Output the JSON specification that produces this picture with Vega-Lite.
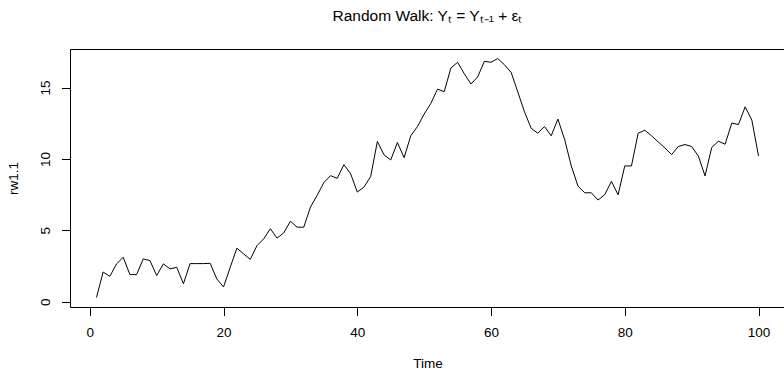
{
  "$schema": "https://vega.github.io/schema/vega-lite/v6.json",
  "autosize": {"type": "none"},
  "padding": {"left": 70, "top": 49, "right": 0, "bottom": 64},
  "width": 715,
  "height": 258,
  "background": "white",
  "title": {
    "text": "Random Walk: Yₜ = Yₜ₋₁ + εₜ",
    "font": "Liberation Sans",
    "fontSize": 15.5,
    "fontWeight": "normal",
    "color": "#000000",
    "anchor": "middle",
    "frame": "group",
    "offset": 25
  },
  "config": {
    "view": {"stroke": "#000000", "strokeWidth": 1},
    "axis": {
      "grid": false,
      "domain": false,
      "tickColor": "#000000",
      "tickWidth": 1,
      "labelColor": "#000000",
      "titleColor": "#000000",
      "labelFont": "Liberation Sans",
      "titleFont": "Liberation Sans",
      "labelFontSize": 13.5,
      "titleFontSize": 13.5,
      "titleFontWeight": "normal"
    }
  },
  "data": {
    "values": [
      {"t": 1, "rw": 0.30}, {"t": 2, "rw": 2.08}, {"t": 3, "rw": 1.78}, {"t": 4, "rw": 2.65},
      {"t": 5, "rw": 3.11}, {"t": 6, "rw": 1.90}, {"t": 7, "rw": 1.90}, {"t": 8, "rw": 3.00},
      {"t": 9, "rw": 2.88}, {"t": 10, "rw": 1.83}, {"t": 11, "rw": 2.65}, {"t": 12, "rw": 2.30},
      {"t": 13, "rw": 2.41}, {"t": 14, "rw": 1.26}, {"t": 15, "rw": 2.67}, {"t": 16, "rw": 2.67},
      {"t": 17, "rw": 2.67}, {"t": 18, "rw": 2.69}, {"t": 19, "rw": 1.59}, {"t": 20, "rw": 1.03},
      {"t": 21, "rw": 2.41}, {"t": 22, "rw": 3.75}, {"t": 23, "rw": 3.35}, {"t": 24, "rw": 2.97},
      {"t": 25, "rw": 3.93}, {"t": 26, "rw": 4.40}, {"t": 27, "rw": 5.11}, {"t": 28, "rw": 4.45},
      {"t": 29, "rw": 4.82}, {"t": 30, "rw": 5.64}, {"t": 31, "rw": 5.22}, {"t": 32, "rw": 5.22},
      {"t": 33, "rw": 6.63}, {"t": 34, "rw": 7.45}, {"t": 35, "rw": 8.34}, {"t": 36, "rw": 8.83},
      {"t": 37, "rw": 8.64}, {"t": 38, "rw": 9.60}, {"t": 39, "rw": 8.97}, {"t": 40, "rw": 7.68},
      {"t": 41, "rw": 8.03}, {"t": 42, "rw": 8.76}, {"t": 43, "rw": 11.22}, {"t": 44, "rw": 10.28},
      {"t": 45, "rw": 9.93}, {"t": 46, "rw": 11.15}, {"t": 47, "rw": 10.09}, {"t": 48, "rw": 11.62},
      {"t": 49, "rw": 12.27}, {"t": 50, "rw": 13.14}, {"t": 51, "rw": 13.89}, {"t": 52, "rw": 14.89},
      {"t": 53, "rw": 14.71}, {"t": 54, "rw": 16.37}, {"t": 55, "rw": 16.77}, {"t": 56, "rw": 15.97},
      {"t": 57, "rw": 15.25}, {"t": 58, "rw": 15.74}, {"t": 59, "rw": 16.84}, {"t": 60, "rw": 16.77},
      {"t": 61, "rw": 17.03}, {"t": 62, "rw": 16.60}, {"t": 63, "rw": 16.07}, {"t": 64, "rw": 14.70},
      {"t": 65, "rw": 13.30}, {"t": 66, "rw": 12.15}, {"t": 67, "rw": 11.80}, {"t": 68, "rw": 12.27},
      {"t": 69, "rw": 11.62}, {"t": 70, "rw": 12.79}, {"t": 71, "rw": 11.38}, {"t": 72, "rw": 9.51},
      {"t": 73, "rw": 8.10}, {"t": 74, "rw": 7.63}, {"t": 75, "rw": 7.63}, {"t": 76, "rw": 7.12},
      {"t": 77, "rw": 7.49}, {"t": 78, "rw": 8.43}, {"t": 79, "rw": 7.49}, {"t": 80, "rw": 9.51},
      {"t": 81, "rw": 9.51}, {"t": 82, "rw": 11.80}, {"t": 83, "rw": 12.01}, {"t": 84, "rw": 11.62},
      {"t": 85, "rw": 11.19}, {"t": 86, "rw": 10.77}, {"t": 87, "rw": 10.30}, {"t": 88, "rw": 10.87},
      {"t": 89, "rw": 11.01}, {"t": 90, "rw": 10.87}, {"t": 91, "rw": 10.21}, {"t": 92, "rw": 8.81},
      {"t": 93, "rw": 10.80}, {"t": 94, "rw": 11.24}, {"t": 95, "rw": 11.03}, {"t": 96, "rw": 12.51},
      {"t": 97, "rw": 12.41}, {"t": 98, "rw": 13.65}, {"t": 99, "rw": 12.72}, {"t": 100, "rw": 10.21}
    ]
  },
  "mark": {"type": "line", "color": "#000000", "strokeWidth": 1},
  "encoding": {
    "x": {
      "field": "t",
      "type": "quantitative",
      "scale": {"domain": [-2.96, 103.96], "nice": false, "zero": false},
      "axis": {
        "title": "Time",
        "values": [0, 20, 40, 60, 80, 100],
        "tickSize": 8.5,
        "labelPadding": 10,
        "titlePadding": 17
      }
    },
    "y": {
      "field": "rw",
      "type": "quantitative",
      "scale": {"domain": [-0.37, 17.7], "nice": false, "zero": false},
      "axis": {
        "title": "rw1.1",
        "values": [0, 5, 10, 15],
        "tickSize": 8.5,
        "labelAngle": -90,
        "labelPadding": 9,
        "titlePadding": 18
      }
    }
  }
}
